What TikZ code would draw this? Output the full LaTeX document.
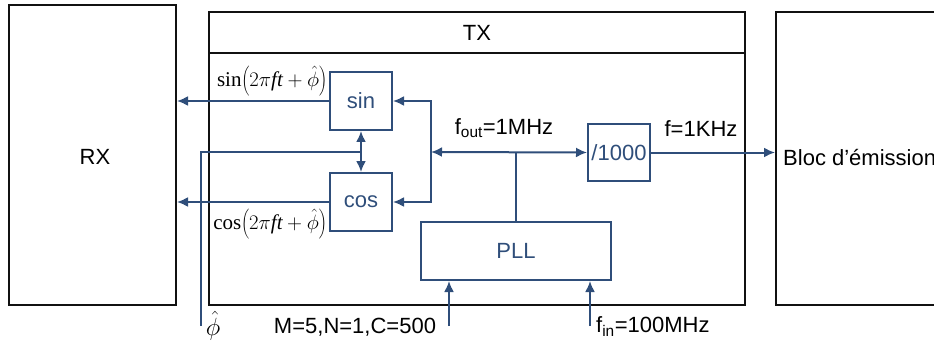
\documentclass[tikz,border=0pt]{standalone}
\usepackage{fontspec}
\setmainfont{Liberation Serif}
\setsansfont{Liberation Sans}
\usepackage{tikz}
\usetikzlibrary{arrows.meta,positioning}
\definecolor{wire}{HTML}{2F4E7A}
\definecolor{frame}{HTML}{111111}
\tikzset{
  outer/.style={draw=frame, line width=2pt, inner sep=0pt},
  unit/.style={draw=wire, line width=2pt, text=wire, inner sep=0pt,
               minimum width=62pt, font=\sffamily\fontsize{22}{26}\selectfont},
  link/.style={draw=wire, line width=2pt},
  arrow/.style={link, -{Latex[length=11pt,width=10pt]}},
  both/.style={link, {Latex[length=11pt,width=10pt]}-{Latex[length=11pt,width=10pt]}},
  label/.style={font=\sffamily\fontsize{22}{26}\selectfont, inner sep=0pt},
  formula/.style={font=\fontsize{21}{24}\selectfont, inner sep=0pt}
}

\begin{document}
\begin{tikzpicture}[x=1pt,y=-1pt]
    \useasboundingbox (0,0) rectangle (934,342);
    \clip (0,0) rectangle (934,342);
    % ===== outer blocks =====
    \node[outer, minimum width=167pt, minimum height=300pt] (rx) at (92.5,155) {};
    \node[label] (rxlabel) at (95,157) {RX};
    \node[outer, minimum width=536pt, minimum height=41pt] (txhead) at (477,32.5) {};
    \node[label] (txlabel) at (txhead) {TX};
    \node[outer, minimum width=536pt, minimum height=252pt] (tx) at (477,179) {};
    \node[outer, minimum width=170pt, minimum height=293pt] (emit) at (861,158.5) {};
    \node[label, anchor=west] (emitlabel) at (783,158) {Bloc d’émission};

    % ===== units inside TX =====
    \node[unit, minimum height=58pt] (sin) at (361,101) {sin};
    \node[unit, minimum height=58pt] (cos) at (361,202) {cos};
    \node[unit, minimum height=57pt] (div) at (619,152.5) {/1000};
    \node[unit, minimum width=190pt, minimum height=58pt] (pll) at (516,251) {PLL};

    % ===== free ends =====
    \coordinate (split) at (431,152);
    \coordinate (phi) at (201,326);
    \coordinate (cfg) at (449,326);
    \coordinate (ref) at (590,326);

    % ===== connectors =====
    \draw[arrow] (sin.west) -- (sin.west -| rx.east);
    \draw[arrow] (cos.west) -- (cos.west -| rx.east);
    \draw[arrow] (split) |- (sin.east);
    \draw[arrow] (split) |- (cos.east);
    \draw[both] (split) -- (div.west);
    \draw[link] (pll.north) -- (pll.north |- split);
    \draw[arrow] (div.east) -- (div.east -| emit.west);
    \draw[both] (sin.south) -- (cos.north);
    \draw[link] (phi) |- (sin |- split);
    \draw[arrow] (cfg) -- (cfg |- pll.south);
    \draw[arrow] (ref) -- (ref |- pll.south);

    % ===== labels =====
    \node[formula] (sinlabel) at (272,81) {$\sin\!\left(2\pi\mathit{ft}+\hat{\phi}\right)$};
    \node[formula] (coslabel) at (270,224) {$\cos\!\left(2\pi\mathit{ft}+\hat{\phi}\right)$};
    \node[label] (foutlabel) at (504,128) {f\textsubscript{out}=1MHz};
    \node[label] (flabel) at (701,129) {f=1KHz};
    \node[label] (cfglabel) at (355,327) {M=5,N=1,C=500};
    \node[label, anchor=west] (finlabel) at (596,327) {f\textsubscript{in}=100MHz};
    \node[formula, font=\fontsize{25}{28}\selectfont] (philabel) at (213,326) {$\hat{\phi}$};
\end{tikzpicture}
\end{document}
